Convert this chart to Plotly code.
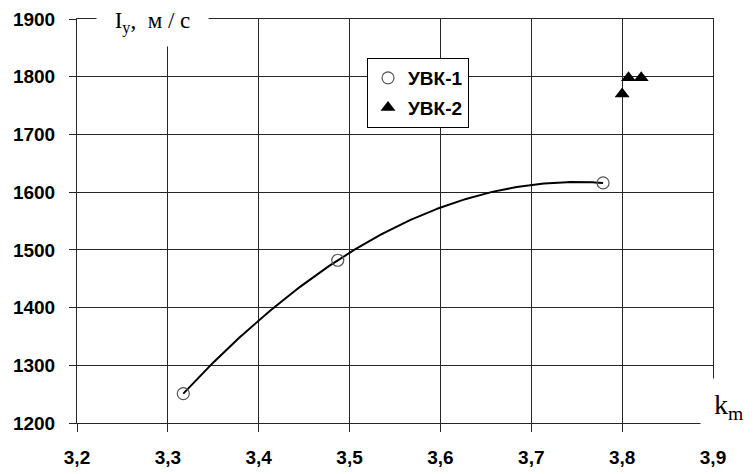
import numpy as np
import plotly.graph_objects as go

# Measured specific impulse vs. mixture ratio
km_uvk1 = [3.317, 3.487, 3.779]
iy_uvk1 = [1251, 1482, 1616]

km_uvk2 = [3.800, 3.807, 3.821]
iy_uvk2 = [1770, 1798, 1798]

x_ticks = [3.2, 3.3, 3.4, 3.5, 3.6, 3.7, 3.8, 3.9]
y_ticks = [1200, 1300, 1400, 1500, 1600, 1700, 1800, 1900]

# Second-order trend line through the УВК-1 series
coef = np.polyfit(km_uvk1, iy_uvk1, 2)
trend_x = np.linspace(min(km_uvk1), max(km_uvk1), 200)
trend_y = np.polyval(coef, trend_x)

fig = go.Figure()
fig.add_trace(go.Scatter(
    x=trend_x, y=trend_y, mode="lines",
    line=dict(color="black", width=2),
    showlegend=False, hoverinfo="skip",
))
fig.add_trace(go.Scatter(
    x=km_uvk1, y=iy_uvk1, mode="markers", name="УВК-1",
    legendgroup="a",
    marker=dict(symbol="circle-open", size=12, color="#555",
                line=dict(width=1.2, color="#555")),
))
fig.add_trace(go.Scatter(
    x=km_uvk2, y=iy_uvk2, mode="markers", name="УВК-2",
    legendgroup="b",
    marker=dict(symbol="triangle-up", size=13, color="black"),
))

tick_font = dict(family="Liberation Sans", size=19, color="black", weight="bold")
grid_col = "#262626"

fig.update_layout(
    width=755, height=474,
    margin=dict(l=77, r=42, t=19, b=51),
    paper_bgcolor="white", plot_bgcolor="white",
    separators=", ",
    font=dict(family="Liberation Sans", color="black"),
    showlegend=True,
    legend=dict(
        x=0.456, y=0.9035, xanchor="left", yanchor="top",
        bgcolor="white", bordercolor="black", borderwidth=1,
        font=dict(family="Liberation Sans", size=19, color="black", weight="bold"),
        tracegroupgap=2, itemwidth=30,
    ),
    xaxis=dict(
        range=[3.2, 3.9], tickvals=x_ticks, tickformat=".1f",
        showgrid=True, gridcolor=grid_col, gridwidth=1,
        showline=True, linecolor=grid_col, linewidth=1, mirror=True,
        ticks="outside", ticklen=8, tickcolor=grid_col,
        tickfont=tick_font, ticklabelstandoff=9, zeroline=False,
        automargin=False,
    ),
    yaxis=dict(
        range=[1200, 1900], tickvals=y_ticks,
        showgrid=True, gridcolor=grid_col, gridwidth=1,
        showline=True, linecolor=grid_col, linewidth=1, mirror=True,
        ticks="outside", ticklen=7, tickcolor=grid_col,
        tickfont=tick_font, ticklabelstandoff=10, zeroline=False,
        automargin=False,
    ),
    annotations=[
        dict(
            text="I<sub>y</sub>,  м / с", xref="paper", yref="paper",
            x=0.1187, y=0.9913, xanchor="center", yanchor="middle",
            showarrow=False, bgcolor="white", width=109, height=45,
            font=dict(family="Liberation Serif", size=23, color="black"),
        ),
        dict(
            text="k<sub>m</sub>", xref="paper", yref="paper",
            x=1.0244, y=0.0408, xanchor="center", yanchor="middle",
            showarrow=False, bgcolor="white", width=53, height=53,
            font=dict(family="Liberation Serif", size=28, color="black"),
        ),
    ],
)

fig.write_html("out.html")
